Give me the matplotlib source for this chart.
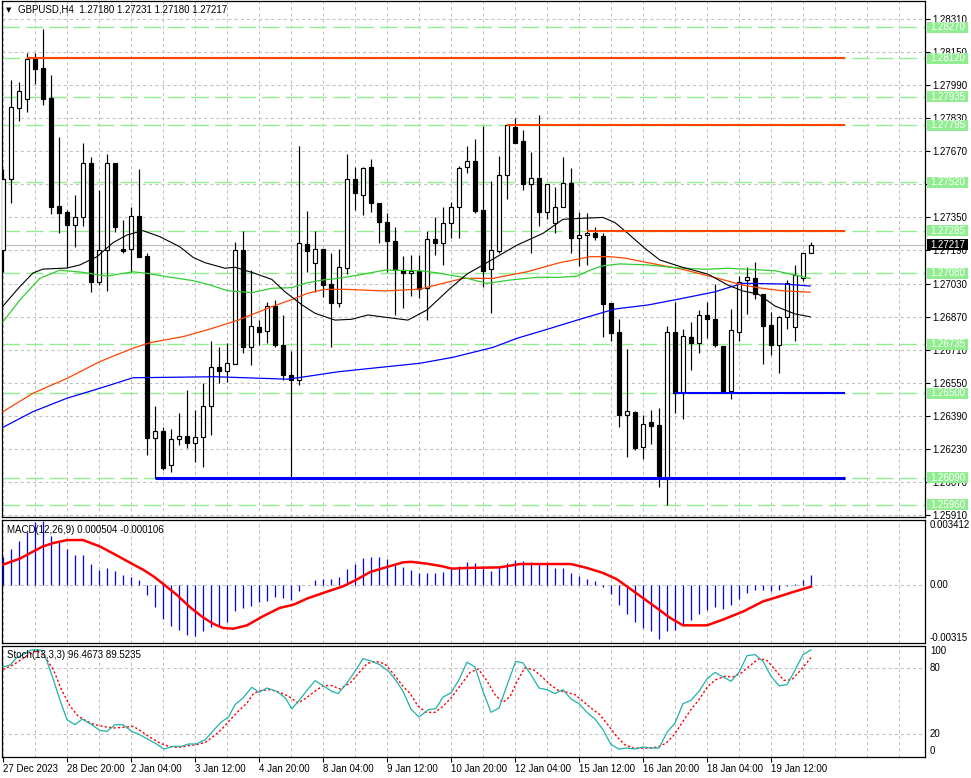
import numpy as np
import matplotlib
matplotlib.use("Agg")
import matplotlib.pyplot as plt
from matplotlib.patches import Rectangle
from matplotlib.transforms import blended_transform_factory

plt.rcParams['font.family'] = ['Liberation Sans', 'DejaVu Sans']
plt.rcParams['lines.scale_dashes'] = False

W, H = 971, 778

# ---------------- data (GBPUSD H4) ----------------
opens = [1.27192, 1.27535, 1.27878, 1.27921, 1.28115, 1.28071, 1.27928, 1.27405, 1.27376, 1.27312,
         1.27350, 1.27612, 1.27039, 1.27192, 1.27612, 1.27196, 1.27196, 1.27357, 1.27163, 1.26281,
         1.26315, 1.26150, 1.26276, 1.26292, 1.26260, 1.26286, 1.26437, 1.26625, 1.26608, 1.26641,
         1.27192, 1.26721, 1.26818, 1.26802, 1.26921, 1.26732, 1.26587, 1.26563, 1.27221, 1.27128,
         1.27196, 1.27028, 1.26937, 1.27104, 1.27535, 1.27458, 1.27592, 1.27421, 1.27329, 1.27237,
         1.27095, 1.27079, 1.27092, 1.27007, 1.27244, 1.27228, 1.27321, 1.27402, 1.27592, 1.27621,
         1.27386, 1.27099, 1.27189, 1.27554, 1.27789, 1.27718, 1.27510, 1.27539, 1.27378, 1.27324,
         1.27402, 1.27515, 1.27249, 1.27265, 1.27276, 1.27260, 1.26934, 1.26797, 1.26395, 1.26410,
         1.26238, 1.26361, 1.26345, 1.26083, 1.26795, 1.26499, 1.26770, 1.26744, 1.26878, 1.26857,
         1.26728, 1.26511, 1.26797, 1.27047, 1.27055, 1.26979, 1.26829, 1.26732, 1.26869, 1.26821,
         1.27055, 1.27180]
highs = [1.27584, 1.28015, 1.28005, 1.28145, 1.28147, 1.28260, 1.28039, 1.27740, 1.27386, 1.27458,
         1.27709, 1.27642, 1.27483, 1.27657, 1.27613, 1.27337, 1.27402, 1.27583, 1.27176, 1.26437,
         1.26337, 1.26325, 1.26402, 1.26515, 1.26418, 1.26550, 1.26753, 1.26721, 1.26744, 1.27232,
         1.27286, 1.27095, 1.26853, 1.26942, 1.26950, 1.26878, 1.26705, 1.27695, 1.27382, 1.27286,
         1.27196, 1.27176, 1.27196, 1.27657, 1.27595, 1.27595, 1.27631, 1.27421, 1.27370, 1.27302,
         1.27163, 1.27168, 1.27168, 1.27286, 1.27350, 1.27399, 1.27426, 1.27599, 1.27695, 1.27731,
         1.27792, 1.27526, 1.27647, 1.27800, 1.27830, 1.27773, 1.27668, 1.27845, 1.27510, 1.27499,
         1.27644, 1.27588, 1.27378, 1.27373, 1.27305, 1.27273, 1.26934, 1.26857, 1.26712, 1.26413,
         1.26394, 1.26418, 1.26426, 1.26824, 1.26942, 1.26808, 1.26845, 1.26902, 1.26942, 1.27028,
         1.26728, 1.26908, 1.27066, 1.27109, 1.27134, 1.26979, 1.26894, 1.26873, 1.27047, 1.27120,
         1.27179, 1.27231]
lows = [1.27086, 1.27421, 1.27818, 1.27861, 1.27995, 1.27894, 1.27366, 1.27273, 1.27104, 1.27208,
        1.27308, 1.26990, 1.27023, 1.26995, 1.27281, 1.27179, 1.27087, 1.27157, 1.26200, 1.26090,
        1.26128, 1.26119, 1.26249, 1.26233, 1.26168, 1.26144, 1.26297, 1.26550, 1.26555, 1.26641,
        1.26692, 1.26636, 1.26732, 1.26744, 1.26724, 1.26563, 1.26095, 1.26539, 1.27087, 1.26990,
        1.26966, 1.26721, 1.26918, 1.27076, 1.27386, 1.27362, 1.27378, 1.27228, 1.27087, 1.26878,
        1.26910, 1.26970, 1.26958, 1.26853, 1.27168, 1.27120, 1.27249, 1.27249, 1.27563, 1.27370,
        1.27015, 1.26889, 1.27176, 1.27438, 1.27711, 1.27483, 1.27179, 1.27308, 1.27341, 1.27273,
        1.27402, 1.27176, 1.27115, 1.27120, 1.27241, 1.26773, 1.26753, 1.26337, 1.26192, 1.26224,
        1.26179, 1.26253, 1.26047, 1.25958, 1.26405, 1.26373, 1.26611, 1.26692, 1.26765, 1.26724,
        1.26502, 1.26470, 1.26753, 1.26883, 1.26954, 1.26641, 1.26684, 1.26599, 1.26808, 1.26753,
        1.27040, 1.27180]
closes = [1.27536, 1.27883, 1.27960, 1.28118, 1.28069, 1.27924, 1.27402, 1.27373, 1.27312, 1.27350,
          1.27612, 1.27039, 1.27192, 1.27612, 1.27305, 1.27189, 1.27357, 1.27160, 1.26281, 1.26315,
          1.26136, 1.26276, 1.26292, 1.26260, 1.26286, 1.26437, 1.26625, 1.26608, 1.26644, 1.27192,
          1.26721, 1.26824, 1.26797, 1.26921, 1.26732, 1.26587, 1.26563, 1.27225, 1.27189, 1.27196,
          1.27023, 1.26937, 1.27109, 1.27535, 1.27467, 1.27588, 1.27421, 1.27329, 1.27237, 1.27095,
          1.27079, 1.27092, 1.27002, 1.27244, 1.27228, 1.27321, 1.27402, 1.27588, 1.27621, 1.27382,
          1.27092, 1.27192, 1.27555, 1.27795, 1.27711, 1.27510, 1.27539, 1.27378, 1.27510, 1.27402,
          1.27515, 1.27249, 1.27265, 1.27276, 1.27257, 1.26931, 1.26792, 1.26394, 1.26412, 1.26233,
          1.26350, 1.26341, 1.26088, 1.26795, 1.26500, 1.26776, 1.26744, 1.26878, 1.26857, 1.26732,
          1.26511, 1.26805, 1.27039, 1.27060, 1.26979, 1.26824, 1.26732, 1.26869, 1.27034, 1.27071,
          1.27180, 1.27217]

# moving averages (bar index, price)
ma_black_x = [0, 2.1, 3.75, 5, 8, 9.6, 11.75, 13.75, 15.5, 17.5, 19.6, 22.1, 23.75, 25.25, 27.75, 29,
              31.5, 33.6, 35.25, 37.4, 39, 41.5, 43.6, 45.6, 47.75, 50.6, 53, 55.9, 58, 60, 61.75,
              64.25, 67.5, 70, 72.5, 75, 76.5, 78.1, 80.25, 82.1, 84.9, 88.1, 90.6, 92.4, 94.4, 96.5,
              99, 100.9]
ma_black_y = [1.26921, 1.27015, 1.27081, 1.27100, 1.27105, 1.27120, 1.27160, 1.27228, 1.27265, 1.27286,
              1.27257, 1.27208, 1.27157, 1.27131, 1.27104, 1.27109, 1.27079, 1.27050, 1.26990, 1.26926,
              1.26886, 1.26853, 1.26857, 1.26878, 1.26867, 1.26853, 1.26902, 1.27007, 1.27076, 1.27120,
              1.27160, 1.27216, 1.27273, 1.27341, 1.27346, 1.27350, 1.27325, 1.27273, 1.27200, 1.27144,
              1.27109, 1.27076, 1.27023, 1.26995, 1.26979, 1.26921, 1.26883, 1.26869]
ma_green_x = [0, 2.1, 4.6, 7.1, 10, 13, 16.25, 18, 20.5, 23.75, 25.9, 28.1, 31.1, 33.6, 36.1, 37.75,
              39.9, 41.9, 44.4, 47.75, 52.1, 54.25, 57.5, 60.5, 63.4, 66.75, 69.6, 71.75, 73.4, 75,
              77.1, 80.6, 84, 87.75, 90.6, 93.1, 96.5, 100.9]
ma_green_y = [1.26845, 1.26950, 1.27055, 1.27095, 1.27084, 1.27066, 1.27087, 1.27079, 1.27063, 1.27044,
              1.27023, 1.26995, 1.26986, 1.27007, 1.27010, 1.27031, 1.27047, 1.27055, 1.27071, 1.27095,
              1.27092, 1.27082, 1.27060, 1.27031, 1.27047, 1.27060, 1.27060, 1.27066, 1.27095, 1.27116,
              1.27125, 1.27120, 1.27107, 1.27099, 1.27104, 1.27099, 1.27092, 1.27055]
ma_red_x = [0, 3.75, 8, 12.1, 16.25, 18.4, 22.5, 25.9, 29.4, 33.6, 36.5, 38.1, 40.25, 42.75, 47.75,
            52.1, 55, 57.5, 61.25, 65.5, 69.6, 73.4, 75.9, 77.75, 80.6, 84.9, 88.9, 92.4, 94.9,
            97.4, 100.9]
ma_red_y = [1.26410, 1.26499, 1.26571, 1.26652, 1.26717, 1.26744, 1.26773, 1.26810, 1.26853, 1.26918,
            1.26958, 1.26983, 1.27002, 1.27002, 1.26994, 1.27003, 1.27031, 1.27055, 1.27055, 1.27087,
            1.27131, 1.27160, 1.27160, 1.27153, 1.27131, 1.27099, 1.27060, 1.27023, 1.27007, 1.26995,
            1.26988]
ma_blue_x = [0, 3.75, 8, 12.1, 16.25, 20.5, 26.5, 35.6, 37.75, 41.9, 46.1, 52.1, 56.25, 61.25, 64.25,
             68.4, 72.1, 76.5, 80.6, 84.9, 89, 92.4, 97.4, 100.9]
ma_blue_y = [1.26334, 1.26410, 1.26475, 1.26523, 1.26574, 1.26576, 1.26579, 1.26567, 1.26579, 1.26603,
             1.26620, 1.26644, 1.26673, 1.26721, 1.26765, 1.26813, 1.26857, 1.26907, 1.26926, 1.26958,
             1.26990, 1.27031, 1.27028, 1.27018]

# MACD(12,26,9): histogram per bar (x1e-4) and signal line
macd_hist = [14.7, 19.2, 23.7, 28.3, 33.5, 34.0, 26.0, 22.9, 19.2, 16.1,
             16.1, 11.1, 7.7, 9.0, 7.2, 5.0, 3.9, 2.5, -5.4, -12.2,
             -18.3, -22.0, -24.4, -26.9, -27.4, -24.7, -22.9, -22.4, -20.1, -14.0,
             -12.5, -11.6, -9.3, -9.0, -6.6, -7.2, -8.1, -3.2, -0.2, 2.5,
             2.9, 3.0, 4.1, 8.4, 11.1, 14.3, 14.7, 14.7, 13.8, 11.1,
             9.5, 8.1, 6.3, 6.3, 6.3, 6.8, 8.6, 9.9, 12.2, 11.6,
             9.9, 7.5, 9.3, 11.6, 13.1, 12.5, 12.2, 11.1, 11.1, 9.0,
             9.0, 6.3, 4.5, 3.0, 1.8, -1.3, -5.0, -10.8, -15.8, -20.1,
             -23.3, -24.7, -29.5, -24.7, -24.2, -21.9, -18.8, -15.8, -13.4, -12.2,
             -12.9, -11.1, -7.7, -4.5, -2.9, -2.7, -3.6, -2.9, -0.7, 0.2,
             2.7, 5.04]
macd_sig_x = [0, 2.1, 3.8, 5, 6.3, 8, 10, 12.1, 14.2, 16.3, 17.5, 18.8, 20, 21.7, 23.4, 25, 26.3,
              27.5, 28.8, 30.5, 32.5, 34.6, 36.3, 38, 40, 42.5, 44.2, 45.9, 48, 50, 51, 53, 54.9,
              56.1, 58, 62.1, 64.6, 71, 73, 75, 76.7, 78.4, 80, 81.7, 83.4, 85, 88, 90, 92.6, 95,
              96.7, 98.8, 101]
macd_sig_y = [10.8, 14.0, 17.9, 20.6, 22.4, 24.0, 24.0, 20.6, 15.8, 10.8, 8.1, 4.5, 0.5, -5.4, -12.2,
              -17.6, -21.1, -23.3, -23.7, -21.9, -17.0, -12.5, -10.8, -7.5, -4.5, -0.9, 2.7, 6.8,
              9.5, 12.0, 12.3, 11.3, 9.9, 8.6, 9.0, 9.3, 11.1, 11.1, 9.0, 6.3, 3.0, -2.2, -7.2,
              -12.5, -17.9, -21.9, -21.9, -18.8, -14.3, -9.0, -6.8, -3.9, -1.06]

# Stochastic(13,3,3)
stoch_main_x = [0, 0.9, 1.7, 2.5, 3.4, 4.2, 4.8, 5.5, 6.3, 7.1, 8, 9, 9.9, 11.1, 12.1, 13, 14, 15,
                16.1, 17.1, 18.2, 19.2, 20.1, 21.3, 22.3, 23.2, 24.2, 25.3, 26.3, 27.3, 28.2, 29,
                30, 31.1, 32, 33, 34.2, 35.3, 36.1, 37.1, 37.9, 39, 39.8, 41.1, 41.9, 43, 44, 45,
                46.1, 47.1, 48.2, 49.2, 50, 51, 52, 53.2, 54.1, 55, 56, 57, 58, 59, 60, 61, 62,
                63.1, 64.1, 65, 66, 67, 68, 69, 70, 71, 72, 73, 74, 75, 76, 77, 78, 79, 80, 81,
                82, 83, 84, 85, 86, 87, 88, 89, 90, 91, 92, 93, 94, 95, 96, 97, 98, 99, 100, 101]
stoch_main_y = [80.9, 82.8, 89.1, 92.2, 96.1, 96.7, 96.1, 86.1, 69.3, 51.1, 32.8, 28.2, 33.4, 28.2,
                23.0, 22.1, 28.2, 28.2, 22.1, 19.1, 14.6, 10.6, 6.0, 8.5, 8.5, 10.6, 10.6, 14.6,
                23.0, 30.7, 35.3, 46.5, 52.6, 62.4, 57.8, 61.7, 58.7, 52.6, 42.6, 51.1, 58.7, 68.4,
                64.8, 58.7, 56.6, 66.3, 76.9, 88.5, 86.1, 83.0, 76.9, 67.8, 58.7, 42.3, 35.3, 42.0,
                42.9, 53.5, 57.2, 69.3, 85.2, 80.9, 58.7, 39.5, 43.4, 66.3, 86.1, 84.6, 73.9, 61.7,
                60.2, 56.6, 60.2, 51.7, 47.4, 39.5, 33.4, 23.7, 10.0, 6.0, 6.9, 6.0, 7.9, 6.9, 6.9,
                21.2, 29.8, 47.4, 50.5, 58.7, 70.0, 76.0, 71.8, 67.8, 76.0, 91.2, 92.2, 86.1, 72.4,
                63.8, 64.8, 77.9, 92.2, 96.47]
stoch_sig_x = [0, 1.3, 3, 4.2, 5.2, 6.3, 7.3, 8.4, 9.4, 10.5, 11.5, 12.5, 13.8, 15, 16.3, 17.3, 18.4,
               19.6, 20.7, 21.9, 23.2, 24.2, 25.3, 26.3, 27.3, 28.4, 29.4, 30.5, 31.3, 32.3, 33.4,
               34.6, 35.7, 36.9, 37.9, 39, 40, 41.1, 42.1, 43.4, 44.4, 45.5, 46.5, 47.7, 48.7, 50,
               50.9, 51.9, 52.9, 54, 55, 56, 57.1, 58.4, 59.4, 60.4, 61.5, 62.5, 63.4, 64.2, 65.2,
               66.3, 67.3, 68.4, 69.4, 70.5, 71.5, 72.5, 73.5, 74.6, 75.6, 76.7, 77.7, 78.8, 79.8,
               80.8, 81.9, 82.9, 83.9, 85, 86, 87, 88.1, 89.1, 90.2, 91.2, 92.3, 93.4, 94.4, 95.4,
               96.5, 97.6, 98.6, 99.7, 101]
stoch_sig_y = [78.5, 83.0, 91.2, 96.1, 90.6, 78.5, 60.2, 45.0, 35.9, 31.3, 28.2, 26.7, 25.2, 25.8,
               26.7, 22.1, 16.7, 11.5, 8.5, 7.5, 9.1, 10.0, 12.1, 17.6, 23.7, 32.8, 40.4, 48.0, 56.6,
               59.6, 60.2, 57.8, 54.1, 48.0, 52.6, 58.7, 63.9, 63.9, 60.8, 66.3, 74.8, 84.0, 86.1,
               84.0, 75.5, 63.3, 56.6, 45.0, 39.5, 39.5, 45.0, 52.6, 63.3, 76.0, 79.1, 69.3, 55.6,
               48.6, 54.1, 66.9, 80.0, 78.5, 72.4, 64.8, 59.6, 57.8, 55.6, 49.6, 43.4, 37.4, 28.2,
               17.6, 10.0, 6.9, 6.9, 6.9, 7.9, 11.5, 19.1, 31.3, 42.0, 51.1, 63.3, 69.3, 72.4, 71.8,
               75.5, 82.2, 88.2, 87.6, 78.5, 68.7, 69.3, 77.9, 89.52]

time_labels = ["27 Dec 2023", "28 Dec 20:00", "2 Jan 04:00", "3 Jan 12:00", "4 Jan 20:00",
               "8 Jan 04:00", "9 Jan 12:00", "10 Jan 20:00", "12 Jan 04:00", "15 Jan 12:00",
               "16 Jan 20:00", "18 Jan 04:00", "19 Jan 12:00"]
price_ticks = [1.28310, 1.28150, 1.27990, 1.27830, 1.27670, 1.27510, 1.27350, 1.27190,
               1.27030, 1.26870, 1.26710, 1.26550, 1.26390, 1.26230, 1.26070, 1.25910]
green_levels = [1.28270, 1.28120, 1.27935, 1.27795, 1.27520, 1.27285, 1.27080, 1.26735,
                1.26500, 1.26090, 1.25960]
res_levels = [1.28120, 1.27795, 1.27285]
res_start = [3, 63, 73]
sup_levels = [1.26500, 1.26090]
sup_start = [84, 19]
line_end = 105.25
bid = 1.27217

# ---------------- figure ----------------
GRID = '#c0c0c0'
LGREEN = '#90ee90'
XLIM = (-0.125, 115.25)


def rect(l, t, r, b):
    return [l / W, 1 - b / H, (r - l) / W, (b - t) / H]


def fpos(x, y):
    return x / W, 1 - y / H


fig = plt.figure(figsize=(W / 100, H / 100), dpi=100)
fig.patch.set_facecolor('white')

ax = fig.add_axes(rect(2, 0.5, 925, 517))
ax_m = fig.add_axes(rect(2, 520, 925, 643))
ax_s = fig.add_axes(rect(2, 645.5, 925, 756.5))

for a in (ax, ax_m, ax_s):
    a.set_xlim(*XLIM)
    for sp in a.spines.values():
        sp.set_linewidth(0.9)
        sp.set_color('black')
    for v in range(0, 116, 4):
        a.axvline(v, color=GRID, lw=0.75, dashes=(2.2, 2.2), zorder=0)
    a.tick_params(axis='x', length=0, labelbottom=False)

# ---- main price panel ----
ax.set_ylim(1.25900, 1.28400)
for p in price_ticks:
    ax.axhline(p, color=GRID, lw=0.75, dashes=(2.2, 2.2), zorder=0)
for g in green_levels:
    ax.axhline(g, color=LGREEN, lw=1.0, dashes=(12.5, 4.5), zorder=1)
ax.axhline(bid, color='#c0c0c0', lw=0.9, zorder=1)

ax.yaxis.tick_right()
ax.set_yticks(price_ticks)
ax.set_yticklabels([f'{p:.5f}' for p in price_ticks])
ax.tick_params(axis='y', length=3.5, width=0.8, pad=1.5, labelsize=7)

idx = np.arange(len(opens))
o = np.array(opens)
c = np.array(closes)
up = c >= o
ax.vlines(idx, lows, highs, color='black', lw=0.85, zorder=3)
ax.bar(idx[up], (c - o)[up], bottom=o[up], width=0.5, facecolor='white',
       edgecolor='black', linewidth=0.85, zorder=4)
ax.bar(idx[~up], (o - c)[~up], bottom=c[~up], width=0.5, facecolor='black',
       edgecolor='black', linewidth=0.85, zorder=4)

ax.plot(ma_blue_x, ma_blue_y, color='#0000ff', lw=0.9, zorder=5)
ax.plot(ma_red_x, ma_red_y, color='#ff4500', lw=0.9, zorder=5)
ax.plot(ma_green_x, ma_green_y, color='#32cd32', lw=0.9, zorder=5)
ax.plot(ma_black_x, ma_black_y, color='black', lw=0.8, zorder=5)

for lvl, s in zip(res_levels, res_start):
    ax.hlines(lvl, s, line_end, color='#ff4500', lw=1.5, zorder=6)
ax.hlines(sup_levels[0], sup_start[0], line_end, color='#0000ff', lw=1.5, zorder=6)
ax.hlines(sup_levels[1], sup_start[1], line_end, color='#0000ff', lw=2.2, zorder=6)

# price labels on the right scale
trans = blended_transform_factory(ax.transAxes, ax.transData)
box_h = 11 / 20667.0
for g in green_levels:
    ax.add_patch(Rectangle((1.0022, g - box_h / 2), 0.0444, box_h, transform=trans,
                           facecolor=LGREEN, edgecolor='none', clip_on=False, zorder=10))
    ax.text(1.0244, g, f'{g:.5f}', transform=trans, ha='center', va='center',
            color='white', fontsize=7, clip_on=False, zorder=11)
ax.add_patch(Rectangle((1.0022, bid - box_h / 2), 0.0444, box_h, transform=trans,
                       facecolor='black', edgecolor='none', clip_on=False, zorder=10))
ax.text(1.0244, bid, f'{bid:.5f}', transform=trans, ha='center', va='center',
        color='white', fontsize=7, clip_on=False, zorder=11)

# ---- MACD panel ----
ax_m.set_ylim(-0.00314, 0.00348)
ax_m.set_yticks([])
ax_m.axhline(0, color=GRID, lw=0.75, dashes=(2.2, 2.2), zorder=0)
ax_m.vlines(idx, 0, np.array(macd_hist) * 1e-4, color='#0000ff', lw=0.9, zorder=3)
ax_m.plot(macd_sig_x, np.array(macd_sig_y) * 1e-4, color='red', lw=1.8, zorder=4)
tm = blended_transform_factory(ax_m.transAxes, ax_m.transData)
ax_m.text(1.0054, 0.00348, '0.003412', transform=tm, va='top', ha='left', fontsize=7, clip_on=False)
ax_m.text(1.0054, 0.0, '0.00', transform=tm, va='center', ha='left', fontsize=7, clip_on=False)
ax_m.text(1.0054, -0.00314, '-0.00315', transform=tm, va='bottom', ha='left', fontsize=7, clip_on=False)

# ---- Stochastic panel ----
ax_s.set_ylim(-0.8, 100.5)
ax_s.set_yticks([])
for lv in (80, 20):
    ax_s.axhline(lv, color=GRID, lw=0.75, dashes=(2.2, 2.2), zorder=0)
ax_s.plot(stoch_main_x, stoch_main_y, color='#20b2aa', lw=0.9, zorder=4)
ax_s.plot(stoch_sig_x, stoch_sig_y, color='red', lw=1.0, dashes=(1.6, 1.6), zorder=3)
ts = blended_transform_factory(ax_s.transAxes, ax_s.transData)
ax_s.text(1.0054, 100.5, '100', transform=ts, va='top', ha='left', fontsize=7, clip_on=False)
ax_s.text(1.0054, 80, '80', transform=ts, va='center', ha='left', fontsize=7, clip_on=False)
ax_s.text(1.0054, 20, '20', transform=ts, va='center', ha='left', fontsize=7, clip_on=False)
ax_s.text(1.0054, -0.8, '0', transform=ts, va='bottom', ha='left', fontsize=7, clip_on=False)

ax_s.set_xticks(np.arange(0, 8 * len(time_labels), 8))
ax_s.set_xticklabels(time_labels, ha='left', fontsize=7)
ax_s.tick_params(axis='x', length=3.5, width=0.8, pad=2, labelbottom=True)

# ---- panel captions ----
fig.text(*fpos(6, 10), '\u25bc', fontsize=5, va='center', ha='left', family=['DejaVu Sans'])
fig.text(*fpos(18, 10), 'GBPUSD,H4  1.27180 1.27231 1.27180 1.27217', fontsize=7,
         va='center', ha='left')
fig.text(*fpos(7, 530), 'MACD(12,26,9) 0.000504 -0.000106', fontsize=7, va='center', ha='left')
fig.text(*fpos(7, 655), 'Stoch(13,3,3) 96.4673 89.5235', fontsize=7, va='center', ha='left')

fig.savefig('out.png', dpi=100)
